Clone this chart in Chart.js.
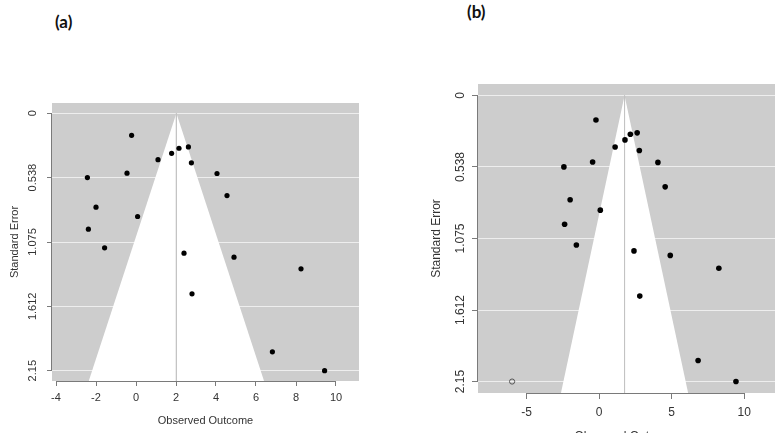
<!DOCTYPE html>
<html>
<head>
<meta charset="utf-8">
<script src="https://cdn.jsdelivr.net/npm/chart.js@4.4.0/dist/chart.umd.min.js"></script>
<style>
    html, body { margin: 0; padding: 0; background: #fff; }
    body { width: 780px; height: 433px; position: relative; overflow: hidden; }
    .painel { position: absolute; top: 0; width: 390px; height: 433px; }
    .tag { position: absolute; font-family: Lato, sans-serif; font-weight: 700; font-size: 17px; color: #111; }
</style>
</head>
<body>
<div class="tag" style="left:55px; top:11px;">(a)</div>
<div class="tag" style="left:467px; top:1px;">(b)</div>
<div class="painel" style="left:0"><canvas id="funilA" width="390" height="433"></canvas></div>
<div class="painel" style="left:390px"><canvas id="funilB" width="390" height="433"></canvas></div>

<script>
const efeitoEstudo = [-0.22, -2.43, -0.45, 1.10, 1.78, 2.15, 2.62, 2.77, 4.05, 4.55,
                      -2.00, 0.08, -2.38, -1.57, 2.40, 4.90, 8.25, 2.80, 6.82, 9.43];
const erroPadrao   = [0.184, 0.537, 0.500, 0.387, 0.334, 0.292, 0.281, 0.414, 0.503, 0.687,
                      0.784, 0.862, 0.968, 1.124, 1.168, 1.202, 1.299, 1.508, 1.992, 2.150];

// Estudo imputado pelo trim-and-fill (painel b)
const efeitoImputado = [-6.0];
const erroImputado = [2.15];

// Estimativas combinadas (centro do funil)
const estimativaA = 2.02;
const estimativaB = 1.75;

// Eixos
const ticksErro = [0, 0.5375, 1.075, 1.6125, 2.15];
const rotulosErro = ['0', '0.538', '1.075', '1.612', '2.15'];
const ticksXA = [-4, -2, 0, 2, 4, 6, 8, 10];
const ticksXB = [-5, 0, 5, 10];

const fonteR = "'Liberation Sans', Arial, sans-serif";

// fundo cinza da área do gráfico (estilo metafor)
const fundoCinza = {
    id: 'fundoCinza',
    beforeDraw(chart) {
        const { ctx, chartArea: a } = chart;
        ctx.save();
        ctx.fillStyle = '#cdcdcd';
        ctx.fillRect(a.left, a.top, a.right - a.left, a.bottom - a.top);
        ctx.restore();
    }
};

// linhas dos eixos só entre o primeiro e o último tick, como no R
const eixosR = {
    id: 'eixosR',
    afterDraw(chart) {
        const { ctx, chartArea: a, scales: { x, y } } = chart;
        const xt = x.ticks, yt = y.ticks;
        ctx.save();
        ctx.strokeStyle = '#7a7a7a';
        ctx.lineWidth = 1;
        ctx.beginPath();
        ctx.moveTo(x.getPixelForValue(xt[0].value), a.bottom + 0.5);
        ctx.lineTo(x.getPixelForValue(xt[xt.length - 1].value), a.bottom + 0.5);
        ctx.moveTo(a.left - 0.5, y.getPixelForValue(yt[0].value));
        ctx.lineTo(a.left - 0.5, y.getPixelForValue(yt[yt.length - 1].value));
        ctx.stroke();
        ctx.restore();
    }
};

function desenharFunil(id, op) {
    const seMax = op.yMax;
    const est = op.estimativa;

    const datasets = [{
        type: 'scatter',
        data: efeitoEstudo.map((v, i) => ({ x: v, y: erroPadrao[i] })),
        pointRadius: op.raio,
        backgroundColor: '#000',
        borderColor: '#000',
        borderWidth: 0
    }];

    if (op.imputados) {
        datasets.push({
            type: 'scatter',
            data: efeitoImputado.map((v, i) => ({ x: v, y: erroImputado[i] })),
            pointRadius: 2.6,
            backgroundColor: 'rgba(0,0,0,0)',
            borderColor: '#555',
            borderWidth: 1
        });
    }

    // linha de referência
    datasets.push({
        type: 'line',
        data: [{ x: est, y: 0 }, { x: est, y: seMax }],
        borderColor: '#c4c4c4',
        borderWidth: 1,
        pointRadius: 0,
        fill: false
    });

    // região do funil (est ± 1.96*SE)
    datasets.push({
        type: 'line',
        data: [
            { x: est - 1.96 * seMax, y: seMax },
            { x: est, y: 0 },
            { x: est + 1.96 * seMax, y: seMax }
        ],
        borderWidth: 0,
        borderColor: 'rgba(0,0,0,0)',
        backgroundColor: '#ffffff',
        fill: 'start',
        pointRadius: 0,
        tension: 0
    });

    new Chart(document.getElementById(id), {
        type: 'scatter',
        data: { datasets },
        plugins: [fundoCinza, eixosR],
        options: {
            responsive: false,
            animation: false,
            devicePixelRatio: 1,
            events: [],
            layout: { padding: op.padding },
            plugins: { legend: { display: false }, tooltip: { enabled: false } },
            scales: {
                x: {
                    type: 'linear',
                    min: op.xMin,
                    max: op.xMax,
                    afterBuildTicks: s => { s.ticks = op.ticksX.map(v => ({ value: v })); },
                    afterFit: s => { s.height = op.xAltura; },
                    ticks: {
                        autoSkip: false, maxRotation: 0,
                        padding: op.xPad,
                        color: '#333',
                        font: { family: fonteR, size: op.fonte }
                    },
                    grid: { drawOnChartArea: false, tickLength: op.tick, tickColor: '#7a7a7a' },
                    border: { display: false },
                    title: {
                        display: true, text: 'Observed Outcome',
                        color: '#333',
                        font: { family: fonteR, size: op.fonte },
                        padding: { top: 0, bottom: op.xTitPad }
                    }
                },
                y: {
                    type: 'linear',
                    reverse: true,
                    min: op.yMin,
                    max: op.yMax,
                    afterBuildTicks: s => { s.ticks = ticksErro.map(v => ({ value: v })); },
                    afterFit: s => { s.width = op.yLargura; },
                    ticks: {
                        minRotation: 90, maxRotation: 90,
                        crossAlign: 'center',
                        padding: op.yPad,
                        color: '#333',
                        font: { family: fonteR, size: op.fonte },
                        callback: (v, i) => rotulosErro[i]
                    },
                    grid: { color: '#eeeeee', lineWidth: 1, tickLength: op.tick, tickColor: '#7a7a7a' },
                    border: { display: false },
                    title: {
                        display: true, text: 'Standard Error',
                        color: '#333',
                        font: { family: fonteR, size: op.fonte },
                        padding: { top: op.yTitPad, bottom: 0 }
                    }
                }
            }
        }
    });
}

desenharFunil('funilA', {
    estimativa: estimativaA, imputados: false, raio: 2.6,
    xMin: -4.2, xMax: 11.15, yMin: -0.086, yMax: 2.236,
    ticksX: ticksXA, fonte: 11, tick: 5,
    padding: { top: 103, right: 31, bottom: 0, left: 0 },
    yLargura: 52, xAltura: 52,
    yPad: 0, xPad: 5, yTitPad: 8, xTitPad: 5
});

desenharFunil('funilB', {
    estimativa: estimativaB, imputados: true, raio: 2.8,
    xMin: -8.35, xMax: 12.12, yMin: -0.086, yMax: 2.236,
    ticksX: ticksXB, fonte: 12, tick: 6,
    padding: { top: 84, right: 0, bottom: 0, left: 0 },
    yLargura: 88, xAltura: 40,
    yPad: -4, xPad: 6, yTitPad: 39, xTitPad: -11
});
</script>
</body>
</html>
